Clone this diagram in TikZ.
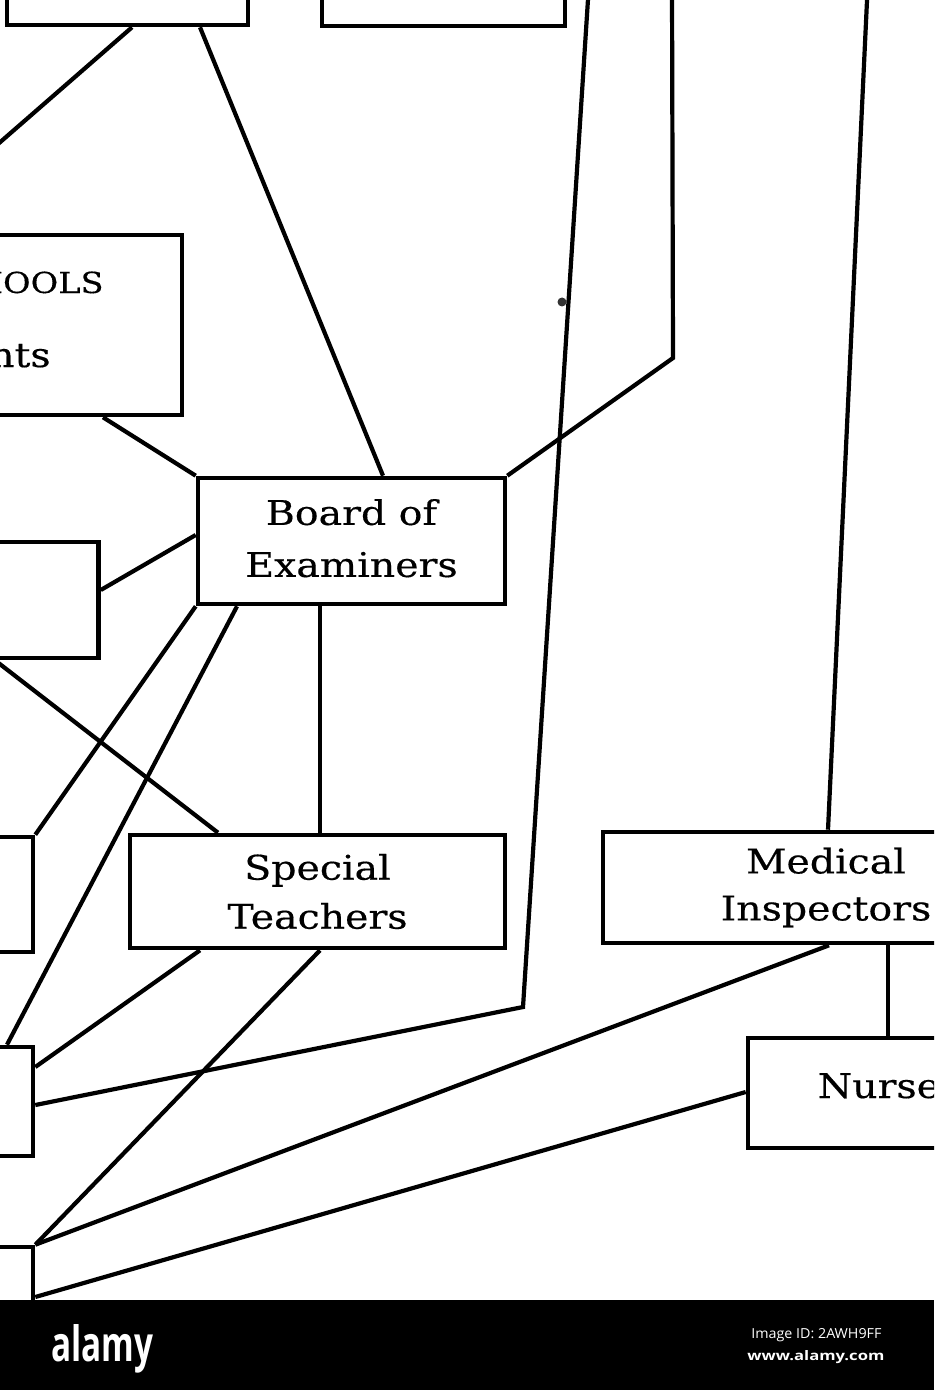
\documentclass[tikz,border=0pt]{standalone}
\usepackage{fontspec}
\usepackage{graphicx}
\setmainfont{DejaVu Serif}[FakeStretch=1.16, FakeBold=0.4]
\newfontfamily\alfont{Open Sans}
\begin{document}
\begin{tikzpicture}[x=0.5pt,y=-0.5pt,
  box/.style={draw, line width=2.3pt, inner sep=0pt, align=center,
              font=\fontsize{17pt}{25pt}\selectfont},
  conn/.style={line width=2.1pt},
  lbl/.style={inner sep=0pt, font=\fontsize{17pt}{25pt}\selectfont},
  wm/.style={inner sep=0pt, text=white}]
\useasboundingbox (0,0) rectangle (934,1390);
\clip (0,0) rectangle (934,1390);

% boxes
\node[box, minimum width=120.5pt, minimum height=42.5pt] (tl) at (127.5,-17.5) {};
\node[box, minimum width=121.5pt, minimum height=43pt] (tm) at (443.5,-17) {};
\node[box, minimum width=191pt, minimum height=90pt] (sch) at (-9,325) {};
\node[box, minimum width=149.5pt, minimum height=58pt] (lm) at (-51,600) {};
\node[box, minimum width=116.5pt, minimum height=57.5pt] (lbtwo) at (-83.5,894.5) {};
\node[box, minimum width=116.5pt, minimum height=54.5pt] (lbthree) at (-83.5,1101.5) {};
\node[box, minimum width=116.5pt, minimum height=76.5pt] (lbfour) at (-83.5,1323.5) {};
\node[box, minimum width=153.5pt, minimum height=63pt, text depth=3pt,
      font=\fontsize{17pt}{26pt}\selectfont] (board) at (351.5,541) {Board of\\Examiners};
\node[box, minimum width=187.5pt, minimum height=56.5pt,
      font=\fontsize{17pt}{24.5pt}\selectfont] (spec) at (317.5,891.5) {Special\\Teachers};
\node[box, minimum width=223pt, minimum height=55.5pt,
      font=\fontsize{17pt}{23.5pt}\selectfont] (med) at (826,887.5) {Medical\\Inspectors};
\node[box, minimum width=141pt, minimum height=55pt] (nurse) at (889,1093) {};
\node[lbl, anchor=base] (nursetxt) at (889,1098) {Nurses};

% partially visible texts of the left box
\node[lbl, anchor=base east, font=\fontsize{14.5pt}{16pt}\selectfont] (schtxta) at (104,293) {SUPERINTENDENT OF SCHOOLS};
\node[lbl, anchor=base east] (schtxtb) at (51,367) {Superintendents};

% free ends and bends
\coordinate (eone) at (-10,151);
\coordinate (etwo) at (672,-10);
\coordinate (ktwo) at (673,358);
\coordinate (ethree) at (588.6,-10);
\coordinate (kthree) at (523,1007);
\coordinate (efour) at (867.5,-10);

% connectors
\draw[conn] (tl.south -| 132,0) -- (eone);
\draw[conn] (tl.south -| 200,0) -- (board.north -| 383,0);
\draw[conn] (sch.south -| 103,0) -- (board.north west);
\draw[conn] (lm.east |- 0,590) -- (board.west |- 0,535);
\draw[conn] (lm.south -| -5,0) -- (spec.north -| 218,0);
\draw[conn] (board.south west) -- (lbtwo.north east);
\draw[conn] (board.south -| 237,0) -- (lbthree.north -| 7,0);
\draw[conn] (board.south -| 320,0) -- (spec.north -| 320,0);
\draw[conn] (board.north east) -- (ktwo) -- (etwo);
\draw[conn] (spec.south -| 200,0) -- (lbthree.east |- 0,1067);
\draw[conn] (spec.south -| 320,0) -- (lbfour.north east);
\draw[conn] (ethree) -- (kthree) -- (lbthree.east |- 0,1105);
\draw[conn] (efour) -- (med.north -| 828,0);
\draw[conn] (med.south -| 829,0) -- (lbfour.north east);
\draw[conn] (med.south -| 888,0) -- (nurse.north -| 888,0);
\draw[conn] (nurse.west |- 0,1092) -- (lbfour.east |- 0,1297);

% ink speck
\node[circle, fill=black!80, inner sep=0pt, minimum size=4.5pt] (speck) at (562,302) {};

% watermark bar
\fill[black] (0,1300) rectangle (934,1390);
\node[wm, anchor=base west] (logo) at (51,1361) {\resizebox{51pt}{18.5pt}{\alfont\bfseries alamy}};
\node[wm, anchor=base west] (imgid) at (751,1338) {\resizebox{65pt}{5pt}{\alfont Image ID: 2AWH9FF}};
\node[wm, anchor=base west] (site) at (747,1360) {\resizebox{68.5pt}{5pt}{\alfont\bfseries www.alamy.com}};
\end{tikzpicture}
\end{document}
